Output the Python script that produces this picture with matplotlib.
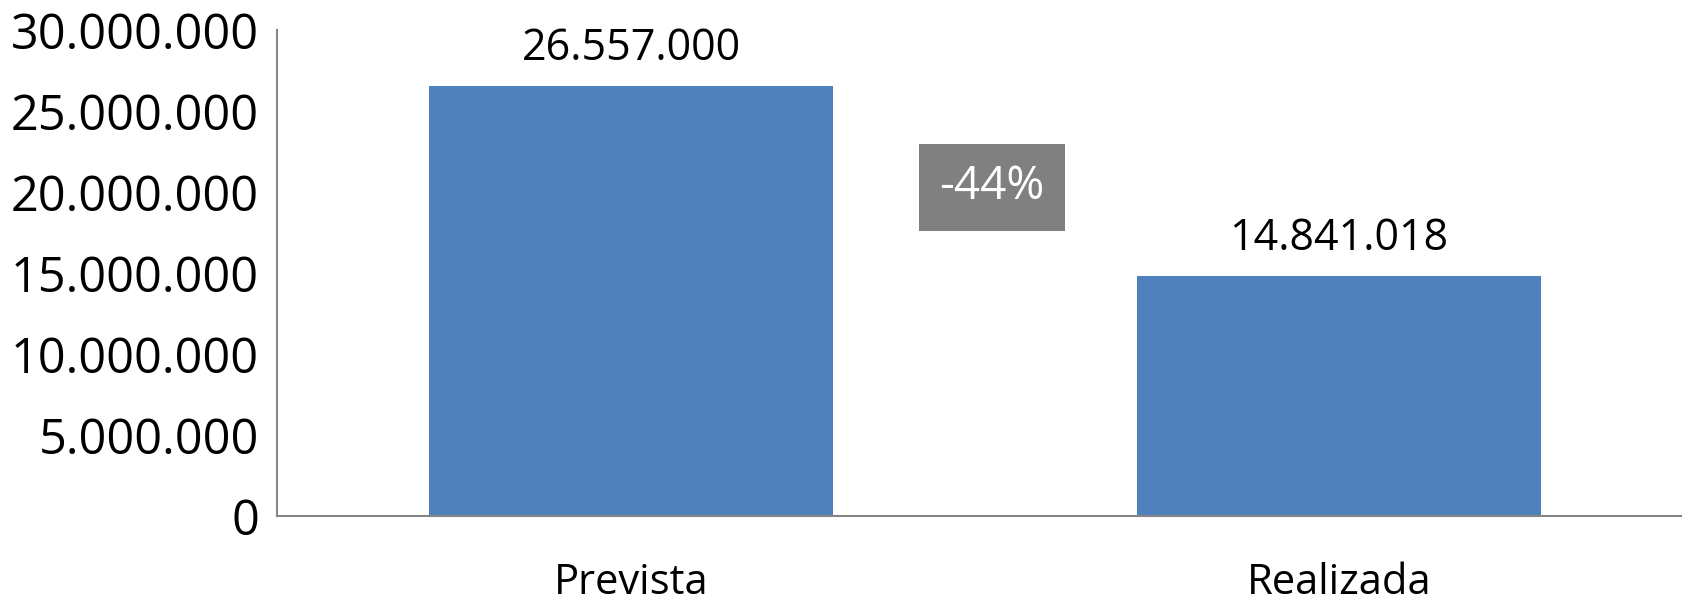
import matplotlib.pyplot as plt
from matplotlib.ticker import FuncFormatter

plt.rcParams['font.family'] = ['Open Sans', 'DejaVu Sans']

categorias = ['Prevista', 'Realizada']
valores = [26557000, 14841018]
variacao = '-44%'


def fmt_pt(v, pos=None):
    return '{:,.0f}'.format(v).replace(',', '.')


fig = plt.figure(figsize=(16.82, 5.96), dpi=100)
ax = fig.add_axes([0.1647, 0.1342, 0.8353, 0.8155])

x = range(len(categorias))
ax.bar(x, valores, width=0.57, color='#4F81BD', zorder=2)

for xi, v in zip(x, valores):
    ax.text(xi, v + 900000, fmt_pt(v), ha='center', va='bottom', fontsize=31, color='black')

# caixa com a variação entre previsto e realizado
ax.text(0.51, 20300000, variacao, ha='center', va='center', fontsize=33, color='white',
        bbox=dict(boxstyle='square,pad=0.45', facecolor='#808080', edgecolor='none'))

ax.set_xlim(-0.5, 1.4845)
ax.set_ylim(0, 30000000)
ax.set_yticks(range(0, 30000001, 5000000))
ax.yaxis.set_major_formatter(FuncFormatter(fmt_pt))
ax.set_xticks(list(x))
ax.set_xticklabels(categorias)

ax.tick_params(axis='y', length=0, labelsize=35, pad=13)
ax.tick_params(axis='x', length=0, labelsize=30, pad=33)

for s in ['top', 'right']:
    ax.spines[s].set_visible(False)
for s in ['left', 'bottom']:
    ax.spines[s].set_color('#868686')
    ax.spines[s].set_linewidth(1.5)

fig.savefig('out.png', dpi=100)
